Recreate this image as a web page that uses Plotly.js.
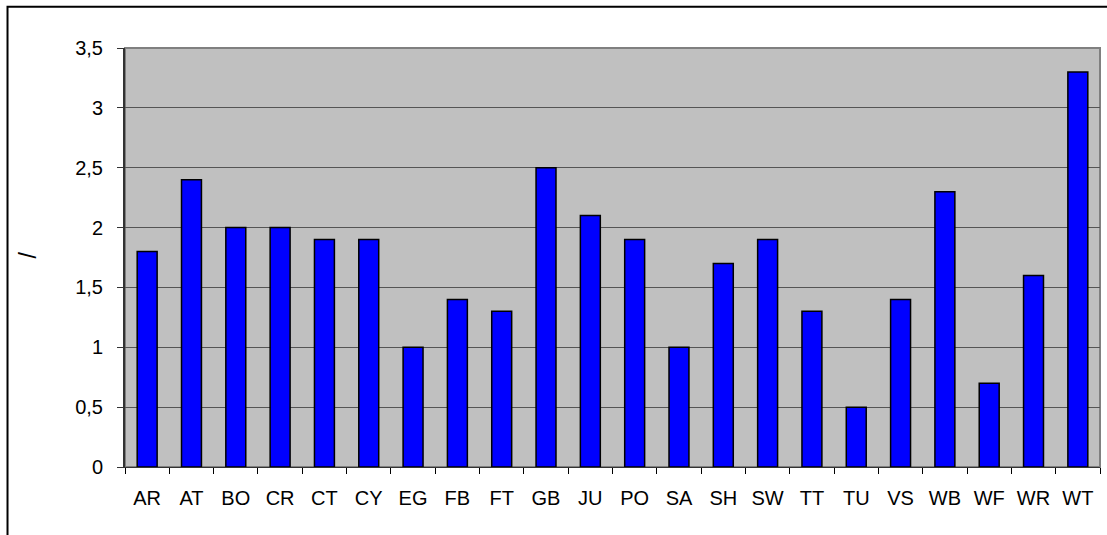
<!DOCTYPE html>
<html>
<head>
<meta charset="utf-8">
<script src="https://cdn.plot.ly/plotly-3.0.1.min.js"></script>
<style>
html,body{margin:0;padding:0;background:#fff;}
#chart{width:1107px;height:535px;}
</style>
</head>
<body>
<div id="chart"></div>
<script>
const categories = ["AR","AT","BO","CR","CT","CY","EG","FB","FT","GB","JU","PO","SA","SH","SW","TT","TU","VS","WB","WF","WR","WT"];
const values = [1.8,2.4,2.0,2.0,1.9,1.9,1.0,1.4,1.3,2.5,2.1,1.9,1.0,1.7,1.9,1.3,0.5,1.4,2.3,0.7,1.6,3.3];
const yTicks = [0,0.5,1,1.5,2,2.5,3,3.5];
const yTitle = "/";

const trace = {
  type: "bar",
  x: categories,
  y: values,
  marker: {color: "#0000FF", line: {color: "#000000", width: 1.5}},
  hoverinfo: "x+y"
};

const layout = {
  width: 1107,
  height: 535,
  margin: {l: 125, r: 7, t: 48, b: 68},
  paper_bgcolor: "#FFFFFF",
  plot_bgcolor: "#C0C0C0",
  separators: ", ",
  bargap: 0.55,
  showlegend: false,
  font: {family: "Liberation Sans, Arial, sans-serif", size: 20, color: "#000"},
  xaxis: {
    type: "category",
    tickson: "boundaries",
    ticks: "outside",
    ticklen: 6,
    tickcolor: "#000",
    showgrid: false,
    showline: true,
    linecolor: "#333",
    linewidth: 1,
    tickfont: {size: 20},
    ticklabelstandoff: 13,
    mirror: false
  },
  yaxis: {
    range: [0, 3.5],
    tickvals: yTicks,
    ticktext: yTicks.map(v => String(v).replace(".", ",")),
    ticks: "outside",
    ticklen: 6,
    tickcolor: "#333",
    showline: true,
    linecolor: "#333",
    linewidth: 2,
    gridcolor: "#555555",
    gridwidth: 1.2,
    zeroline: false,
    tickfont: {size: 20},
    ticklabelstandoff: 10
  },
  annotations: [
    {text: yTitle, xref: "paper", yref: "paper", x: -0.099, y: 0.506,
     xanchor: "center", yanchor: "middle", showarrow: false, textangle: -90,
     font: {size: 23, color: "#000"}}
  ],
  shapes: [
    {type: "rect", xref: "paper", yref: "paper", x0: 0, x1: 1, y0: 0, y1: 1,
     line: {color: "#808080", width: 2}, layer: "below", fillcolor: "rgba(0,0,0,0)"},
    {type: "rect", xref: "paper", yref: "paper", x0: -0.1205, x1: 1.2, y0: -0.3, y1: 1.0985,
     line: {color: "#000", width: 2}, layer: "below", fillcolor: "rgba(0,0,0,0)"}
  ]
};

Plotly.newPlot("chart", [trace], layout, {displayModeBar: false, staticPlot: true});
</script>
</body>
</html>
